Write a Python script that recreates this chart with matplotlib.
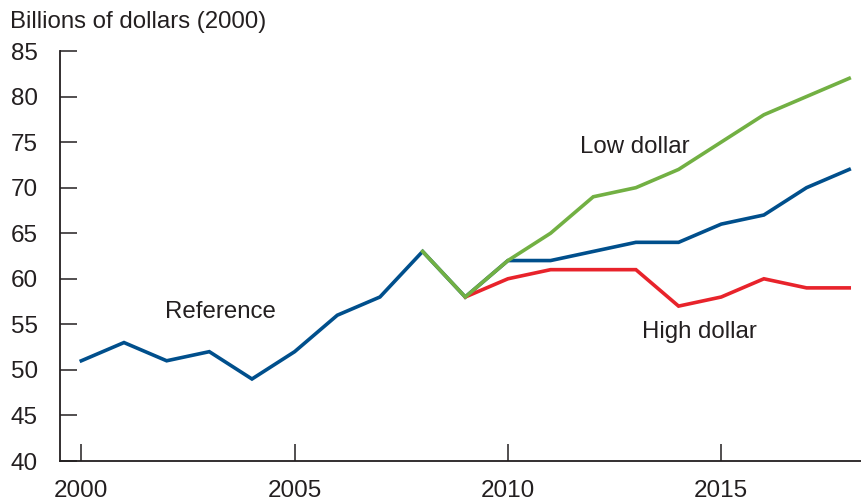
import matplotlib
matplotlib.use("Agg")
import matplotlib.pyplot as plt

plt.rcParams['font.family'] = ['Liberation Sans', 'DejaVu Sans']

# values
years_ref = list(range(2000, 2019))
reference = [51, 53, 51, 52, 49, 52, 56, 58, 63, 58, 62, 62, 63, 64, 64, 66, 67, 70, 72]
years_low = list(range(2008, 2019))
low_dollar = [63, 58, 62, 65, 69, 70, 72, 75, 78, 80, 82]
years_high = list(range(2009, 2019))
high_dollar = [58, 60, 61, 61, 61, 57, 58, 60, 59, 59]

y_ticks = [40, 45, 50, 55, 60, 65, 70, 75, 80, 85]
x_ticks = [2000, 2005, 2010, 2015]

BLUE = '#004f8c'
GREEN = '#72b043'
RED = '#e8232b'

fig = plt.figure(figsize=(8.62, 5.01), dpi=100)
ax = fig.add_axes([60 / 862, 40 / 501, 802 / 862, 410 / 501])

ax.plot(years_ref, reference, color=BLUE, lw=2.6, solid_joinstyle='miter')
ax.plot(years_high, high_dollar, color=RED, lw=2.6, solid_joinstyle='miter')
ax.plot(years_low, low_dollar, color=GREEN, lw=2.6, solid_joinstyle='miter')

ax.set_xlim(1999.5, 2018.3)
ax.set_ylim(40, 85)
ax.set_yticks(y_ticks)
ax.set_xticks(x_ticks)
for s in ['top', 'right']:
    ax.spines[s].set_visible(False)
for s in ['left', 'bottom']:
    ax.spines[s].set_linewidth(1.3)
    ax.spines[s].set_color('#231f20')
ax.tick_params(axis='both', direction='in', length=12, width=1.1,
               color='#231f20', labelsize=17.5, labelcolor='#231f20')
ax.tick_params(axis='y', pad=16)
ax.tick_params(axis='x', pad=14)

ax.text(1999.5 + 105 / 42.7, 56.3, 'Reference', fontsize=17.3, color='#231f20', ha='left', va='center')
ax.text(2011.7, 74.5, 'Low dollar', fontsize=17.3, color='#231f20', ha='left', va='center')
ax.text(2013.15, 54.2, 'High dollar', fontsize=17.3, color='#231f20', ha='left', va='center')

fig.text(10 / 862, 1 - 22 / 501, 'Billions of dollars (2000)', fontsize=17.3,
         color='#231f20', ha='left', va='center')

fig.savefig('out.png', dpi=100)
